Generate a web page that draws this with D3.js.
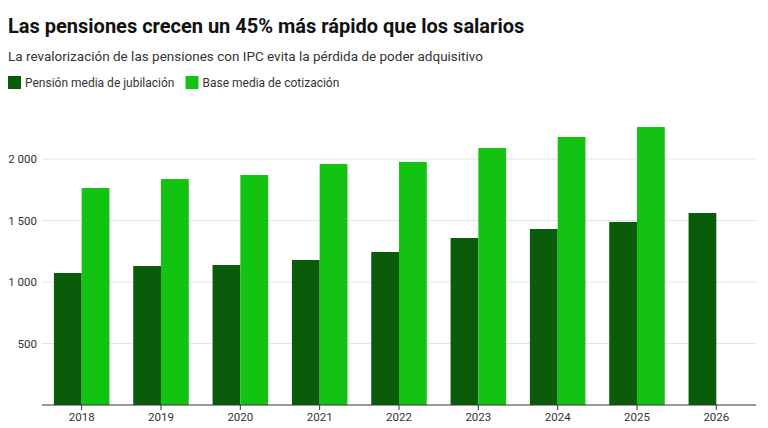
<!DOCTYPE html>
<html><head><meta charset="utf-8">
<script src="https://cdn.jsdelivr.net/npm/d3@7"></script>
<style>
body{margin:0;background:#fff;font-family:Roboto,sans-serif;}
</style></head><body>
<svg id="chart" width="768" height="428"></svg>
<script>
const years = ["2018","2019","2020","2021","2022","2023","2024","2025","2026"];
const pension = [1073,1130,1138,1179,1244,1358,1431,1488,1561];
const base = [1764,1837,1870,1959,1976,2089,2179,2260,null];
const yTicks = [500,1000,1500,2000];
const seriesNames = ["Pensión media de jubilación","Base media de cotización"];
const colors = ["#0a5c0a","#12c312"];

const svg = d3.select("#chart");
const m = {left:42, right:12, top:100, bottom:405};

svg.append("text").attr("x",8).attr("y",33).attr("font-size",20).attr("font-weight",700)
  .attr("fill","#111").text("Las pensiones crecen un 45% más rápido que los salarios");
svg.append("text").attr("x",8).attr("y",61).attr("font-size",13.5).attr("fill","#333")
  .text("La revalorización de las pensiones con IPC evita la pérdida de poder adquisitivo");

const leg = svg.append("g").attr("transform","translate(8,76)");
let lx = 0;
seriesNames.forEach((n,i)=>{
  const g = leg.append("g").attr("transform",`translate(${lx},0)`);
  g.append("rect").attr("width",13).attr("height",13).attr("fill",colors[i]);
  const t = g.append("text").attr("x",17).attr("y",11).attr("font-size",12).attr("fill","#333").text(n);
  lx += 17 + t.node().getComputedTextLength() + 11;
});

const x = d3.scaleBand().domain(years).range([m.left, 768-m.right]).paddingInner(0.3).paddingOuter(0.15);
const x1 = d3.scaleBand().domain([0,1]).range([0, x.bandwidth()]);
const y = d3.scaleLinear().domain([0,2000]).range([m.bottom, 159]);

yTicks.forEach(v=>{
  svg.append("line").attr("x1",m.left).attr("x2",768-m.right).attr("y1",y(v)).attr("y2",y(v))
    .attr("stroke","#e4e4e4");
  svg.append("text").attr("x",37).attr("y",y(v)+4).attr("text-anchor","end")
    .attr("font-size",11.5).attr("fill","#333").text(d3.format(",")(v).replace(","," "));
});

years.forEach((yr,i)=>{
  [pension[i], base[i]].forEach((v,j)=>{
    if (v == null) return;
    svg.append("rect").attr("x",x(yr)+x1(j)).attr("width",x1.bandwidth())
      .attr("y",y(v)).attr("height",y(0)-y(v)).attr("fill",colors[j]);
  });
});

svg.append("line").attr("x1",m.left).attr("x2",768-m.right).attr("y1",y(0)).attr("y2",y(0))
  .attr("stroke","#333");
const xa = svg.append("g").attr("transform",`translate(0,${y(0)})`)
  .call(d3.axisBottom(x).tickSize(5).tickSizeOuter(0));
xa.select(".domain").remove();
xa.selectAll("line").attr("stroke","#333");
xa.selectAll("text").attr("font-size",11.5).attr("fill","#333").attr("font-family","Roboto,sans-serif");
</script>
</body></html>
